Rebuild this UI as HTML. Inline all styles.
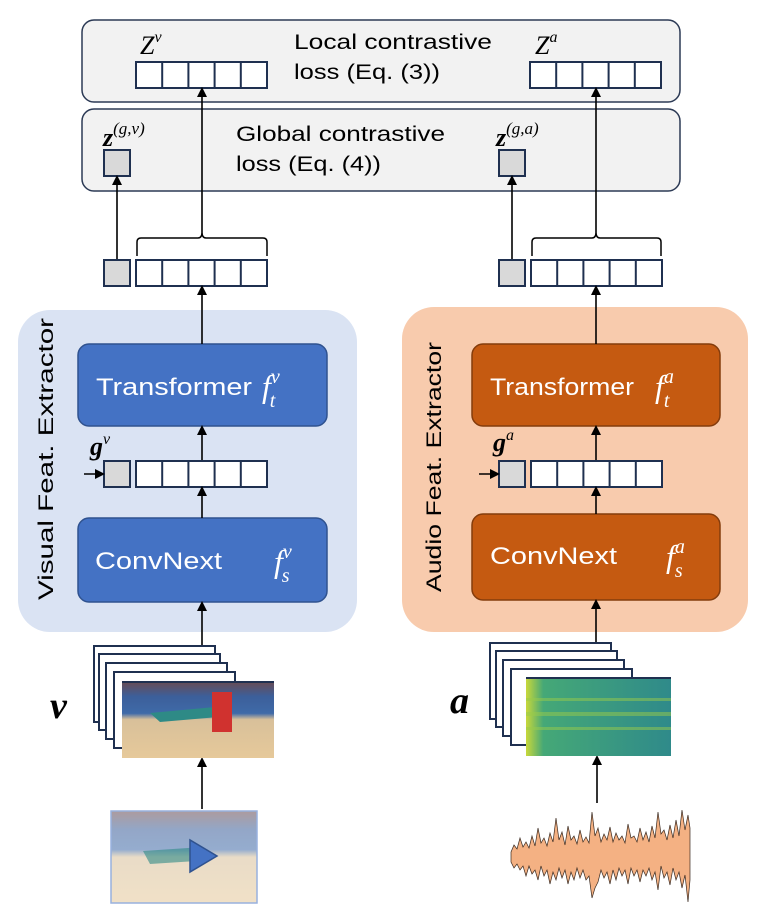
<!DOCTYPE html>
<html><head><meta charset="utf-8"><style>
body{margin:0;background:#fff}
svg{display:block}
.t{font-family:"Liberation Sans",sans-serif}
.m{font-family:"Liberation Serif",serif;font-style:italic}
</style></head><body>
<svg width="771" height="923" viewBox="0 0 771 923" xmlns="http://www.w3.org/2000/svg">
<defs>
<marker id="ar" markerWidth="10" markerHeight="10" refX="8" refY="5" orient="auto" markerUnits="userSpaceOnUse">
<path d="M0,0 L10,5 L0,10 Z" fill="#000"/></marker>
<g id="cells">
<rect x="0" y="0" width="131" height="26" fill="#fff" stroke="#1f3050" stroke-width="2"/>
<line x1="26.2" y1="0" x2="26.2" y2="26" stroke="#1f3050" stroke-width="2"/>
<line x1="52.4" y1="0" x2="52.4" y2="26" stroke="#1f3050" stroke-width="2"/>
<line x1="78.6" y1="0" x2="78.6" y2="26" stroke="#1f3050" stroke-width="2"/>
<line x1="104.8" y1="0" x2="104.8" y2="26" stroke="#1f3050" stroke-width="2"/>
</g>
<linearGradient id="vid" x1="0" y1="0" x2="0" y2="1">
<stop offset="0" stop-color="#6a4a50"/><stop offset="0.2" stop-color="#3c5f9a"/><stop offset="0.42" stop-color="#3f6aa8"/><stop offset="0.5" stop-color="#d8c09a"/><stop offset="1" stop-color="#e6c99a"/></linearGradient>
<linearGradient id="spec" x1="0" y1="0" x2="1" y2="0">
<stop offset="0" stop-color="#c8d83a"/><stop offset="0.12" stop-color="#45a877"/><stop offset="1" stop-color="#2f8a8a"/></linearGradient>
</defs>

<rect x="82" y="20" width="598" height="82" rx="12" fill="#f2f2f2" stroke="#2c3a55" stroke-width="1.5"/>
<rect x="82" y="109" width="598" height="82" rx="12" fill="#f2f2f2" stroke="#2c3a55" stroke-width="1.5"/>
<g class="t" font-size="21">
<text x="294" y="49" textLength="198" lengthAdjust="spacingAndGlyphs">Local contrastive</text>
<text x="294" y="79" textLength="146" lengthAdjust="spacingAndGlyphs">loss (Eq. (3))</text>
<text x="236" y="141" textLength="209" lengthAdjust="spacingAndGlyphs">Global contrastive</text>
<text x="236" y="171" textLength="145" lengthAdjust="spacingAndGlyphs">loss (Eq. (4))</text>
</g>
<text x="140" y="54" class="m" font-size="26">Z<tspan font-size="16" dy="-12">v</tspan></text>
<text x="535" y="54" class="m" font-size="26">Z<tspan font-size="16" dy="-12">a</tspan></text>
<text x="103" y="146" class="m" font-size="26" font-weight="bold">z<tspan font-size="17" font-weight="normal" dy="-12">(g,v)</tspan></text>
<text x="496" y="146" class="m" font-size="26" font-weight="bold">z<tspan font-size="17" font-weight="normal" dy="-12">(g,a)</tspan></text>
<use href="#cells" x="136" y="62"/>
<use href="#cells" x="530" y="62"/>
<rect x="104" y="150" width="26" height="26" fill="#d9d9d9" stroke="#1f3050" stroke-width="2"/>
<rect x="499" y="150" width="26" height="26" fill="#d9d9d9" stroke="#1f3050" stroke-width="2"/>

<rect x="104" y="260" width="26" height="26" fill="#d9d9d9" stroke="#1f3050" stroke-width="2"/>
<use href="#cells" x="136" y="260"/>
<rect x="499" y="260" width="26" height="26" fill="#d9d9d9" stroke="#1f3050" stroke-width="2"/>
<use href="#cells" x="531" y="260"/>
<path d="M137,256 V242 Q137,238 141,238 H198 Q202,238 202,232 Q202,238 206,238 H263 Q267,238 267,242 V256" fill="none" stroke="#000" stroke-width="1.5"/>
<path d="M532,256 V242 Q532,238 536,238 H592 Q596,238 596,232 Q596,238 600,238 H657 Q661,238 661,242 V256" fill="none" stroke="#000" stroke-width="1.5"/>
<g stroke="#000" stroke-width="1.6" marker-end="url(#ar)">
<line x1="202" y1="232" x2="202" y2="89"/>
<line x1="596" y1="232" x2="596" y2="89"/>
<line x1="117" y1="259" x2="117" y2="177"/>
<line x1="512" y1="259" x2="512" y2="177"/>
</g>

<rect x="18" y="310" width="339" height="322" rx="32" fill="#dae3f3"/>
<rect x="402" y="307" width="346" height="325" rx="32" fill="#f8cbad"/>
<text transform="translate(53,459) rotate(-90)" class="t" font-size="21" text-anchor="middle" textLength="282" lengthAdjust="spacingAndGlyphs">Visual Feat. Extractor</text>
<text transform="translate(441,467) rotate(-90)" class="t" font-size="21" text-anchor="middle" textLength="250" lengthAdjust="spacingAndGlyphs">Audio Feat. Extractor</text>

<rect x="78" y="344" width="249" height="82" rx="11" fill="#4472c4" stroke="#2f528f" stroke-width="1.5"/>
<rect x="78" y="518" width="249" height="84" rx="11" fill="#4472c4" stroke="#2f528f" stroke-width="1.5"/>
<rect x="472" y="344" width="248" height="82" rx="11" fill="#c55a11" stroke="#843c0c" stroke-width="1.5"/>
<rect x="472" y="514" width="248" height="86" rx="11" fill="#c55a11" stroke="#843c0c" stroke-width="1.5"/>
<g class="t" font-size="24" fill="#fff">
<text x="96" y="395" textLength="156" lengthAdjust="spacingAndGlyphs">Transformer</text>
<text x="95" y="569" textLength="127" lengthAdjust="spacingAndGlyphs">ConvNext</text>
<text x="490" y="395" textLength="144" lengthAdjust="spacingAndGlyphs">Transformer</text>
<text x="490" y="564" textLength="127" lengthAdjust="spacingAndGlyphs">ConvNext</text>
</g>
<g class="m" fill="#fff" font-size="32">
<text x="262" y="397">f<tspan font-size="20" dy="-14">v</tspan><tspan font-size="20" dx="-10" dy="24">t</tspan></text>
<text x="274" y="572">f<tspan font-size="20" dy="-14">v</tspan><tspan font-size="20" dx="-10" dy="24">s</tspan></text>
<text x="655" y="397">f<tspan font-size="20" dy="-14">a</tspan><tspan font-size="20" dx="-10" dy="24">t</tspan></text>
<text x="666" y="567">f<tspan font-size="20" dy="-14">a</tspan><tspan font-size="20" dx="-10" dy="24">s</tspan></text>
</g>

<text x="90" y="455" class="m" font-size="26" font-weight="bold">g<tspan font-size="16" font-weight="normal" dy="-11">v</tspan></text>
<text x="493" y="451" class="m" font-size="26" font-weight="bold">g<tspan font-size="16" font-weight="normal" dy="-11">a</tspan></text>
<rect x="104" y="461" width="26" height="26" fill="#d9d9d9" stroke="#1f3050" stroke-width="2"/>
<use href="#cells" x="136" y="461"/>
<rect x="499" y="461" width="26" height="26" fill="#d9d9d9" stroke="#1f3050" stroke-width="2"/>
<use href="#cells" x="531" y="461"/>

<g stroke="#000" stroke-width="1.6" marker-end="url(#ar)">
<line x1="202" y1="344" x2="202" y2="287"/>
<line x1="596" y1="344" x2="596" y2="287"/>
<line x1="202" y1="460" x2="202" y2="427"/>
<line x1="596" y1="460" x2="596" y2="427"/>
<line x1="202" y1="518" x2="202" y2="488"/>
<line x1="596" y1="514" x2="596" y2="488"/>
<line x1="84" y1="474" x2="103" y2="474"/>
<line x1="479" y1="474" x2="498" y2="474"/>
<line x1="202" y1="681" x2="202" y2="603"/>
<line x1="596" y1="678" x2="596" y2="601"/>
<line x1="202" y1="809" x2="202" y2="759"/>
<line x1="597" y1="803" x2="597" y2="757"/>
</g>

<g fill="#fff" stroke="#1f3050" stroke-width="2">
<rect x="94" y="646" width="121" height="76"/>
<rect x="99" y="654" width="121" height="76"/>
<rect x="106" y="663" width="121" height="76"/>
<rect x="114" y="672" width="121" height="76"/>
</g>
<rect x="122" y="681" width="152" height="77" fill="url(#vid)"/>
<rect x="122" y="681" width="152" height="2" fill="#1f3050"/>
<polygon points="150,713 215,707 230,716 160,722" fill="#2e8a86"/>
<rect x="212" y="692" width="20" height="40" fill="#d0322f"/>
<text x="50" y="718" class="m" font-size="38" font-weight="bold">v</text>

<rect x="111" y="811" width="146" height="92" fill="url(#vid)" opacity="0.55" stroke="#4472c4" stroke-width="1.5"/>
<polygon points="143,851 203,847 212,860 150,864" fill="#2e8a86" opacity="0.6"/>
<polygon points="190,840 190,872 217,856" fill="#4472c4" stroke="#2f528f" stroke-width="1.5"/>

<g fill="#fff" stroke="#1f3050" stroke-width="2">
<rect x="490" y="643" width="121" height="76"/>
<rect x="496" y="651" width="121" height="76"/>
<rect x="503" y="660" width="121" height="76"/>
<rect x="511" y="669" width="121" height="76"/>
</g>
<rect x="526" y="678" width="145" height="78" fill="url(#spec)"/>
<g fill="#9acb4a" opacity="0.5">
<rect x="526" y="712" width="145" height="4"/><rect x="526" y="727" width="145" height="3"/><rect x="526" y="698" width="145" height="3"/></g>
<rect x="526" y="677" width="145" height="2" fill="#1f3050"/>
<text x="450" y="713" class="m" font-size="38" font-weight="bold">a</text>

<polygon fill="#f4b183" stroke="#3a2a20" stroke-width="0.7" points="511,852 514,845 517,849 520,838 523,847 526,842 529,848 532,836 535,846 538,828 541,843 544,838 547,846 550,833 553,842 556,818 559,840 562,832 565,845 568,826 571,840 574,836 577,844 580,830 583,842 586,837 589,843 592,812 595,836 598,828 601,842 604,834 607,840 610,827 613,842 616,833 619,840 622,836 625,843 628,824 631,838 634,836 637,842 640,828 643,840 646,832 649,842 652,826 655,838 658,812 661,834 664,830 667,840 670,825 673,838 676,820 679,836 682,810 685,830 688,815 690,828 690,880 688,902 685,875 682,888 679,872 676,880 673,868 670,885 667,872 664,878 661,866 658,890 655,872 652,880 649,868 646,876 643,870 640,882 637,870 634,876 631,868 628,884 625,870 622,876 619,868 616,880 613,870 610,884 607,872 604,878 601,870 598,882 595,888 592,898 589,876 586,880 583,870 580,878 577,868 574,880 571,872 568,884 565,870 562,878 559,868 556,880 553,872 550,884 547,870 544,876 541,866 538,880 535,870 532,874 529,866 526,876 523,866 520,870 517,864 514,868 511,862"/>
</svg>
</body></html>
